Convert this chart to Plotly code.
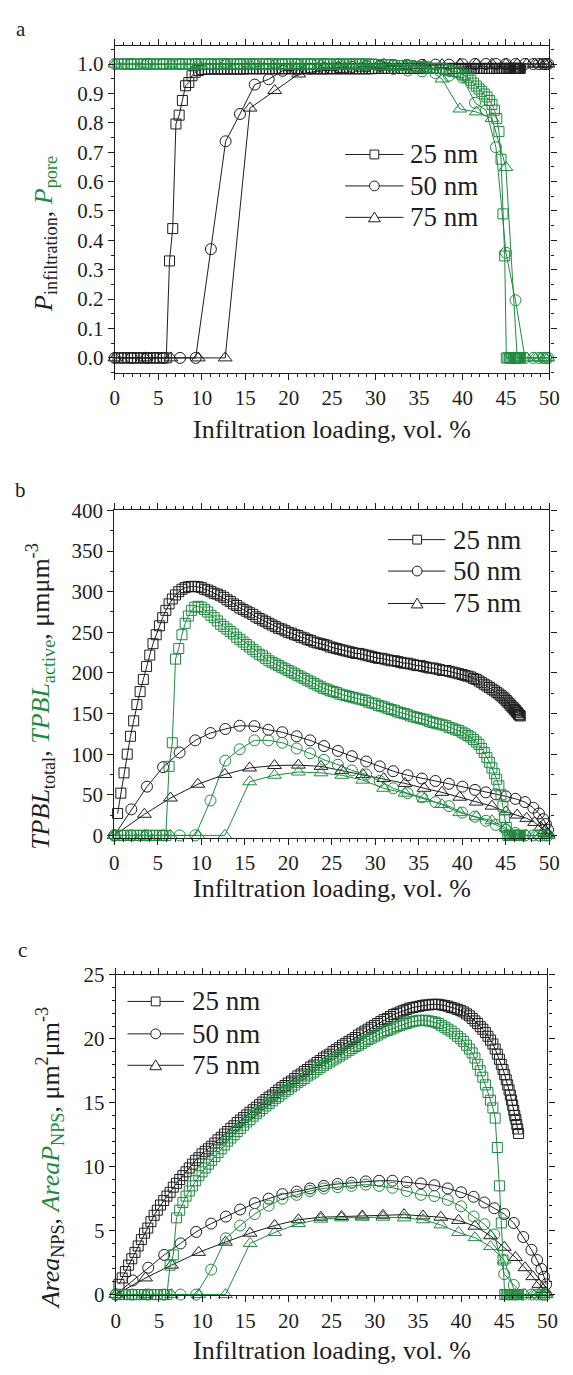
import plotly.graph_objects as go

W, H = 573, 1375
INK = '#1e1e1e'
GREEN = '#1f8b40'
FONT = 'Liberation Serif'

# ---------------- x positions (infiltration loading, vol. %) ----------------
X25 = [0.37, 0.74, 1.11, 1.48, 1.85, 2.22, 2.59, 2.96, 3.33, 3.70,
       4.07, 4.44, 4.81, 5.18, 5.55, 5.92, 6.29, 6.66, 7.03, 7.40,
       7.77, 8.14, 8.51, 8.88, 9.25, 9.62, 9.99, 10.36, 10.73, 11.10,
       11.47, 11.84, 12.21, 12.58, 12.95, 13.32, 13.69, 14.06, 14.43, 14.80,
       15.17, 15.54, 15.91, 16.28, 16.65, 17.02, 17.39, 17.76, 18.13, 18.50,
       18.87, 19.24, 19.61, 19.98, 20.35, 20.72, 21.09, 21.46, 21.83, 22.20,
       22.57, 22.94, 23.31, 23.68, 24.05, 24.42, 24.79, 25.16, 25.53, 25.90,
       26.27, 26.64, 27.01, 27.38, 27.75, 28.12, 28.49, 28.86, 29.23, 29.60,
       29.97, 30.34, 30.71, 31.08, 31.45, 31.82, 32.19, 32.56, 32.93, 33.30,
       33.67, 34.04, 34.41, 34.78, 35.15, 35.52, 35.89, 36.26, 36.63, 37.00,
       37.37, 37.74, 38.11, 38.48, 38.85, 39.22, 39.59, 39.96, 40.30, 40.63,
       40.96, 41.28, 41.60, 41.91, 42.22, 42.52, 42.82, 43.11, 43.40, 43.68,
       43.95, 44.20, 44.44, 44.66, 44.86, 45.05, 45.23, 45.40, 45.56, 45.71,
       45.85, 45.98, 46.10, 46.22, 46.34, 46.45, 46.56, 46.66]
X50 = [0, 1.95, 3.75, 5.6, 7.5, 9.3, 11.05, 12.75, 14.4, 16.1, 17.7, 19.3,
       20.95, 22.5, 24.1, 25.7, 27.3, 28.95, 30.5, 32.05, 33.7, 35.35, 36.9,
       38.45, 40.0, 41.45, 42.7, 43.85, 45.0, 46.1, 47.2, 48.15, 48.8, 49.3,
       49.6, 49.85]
X75 = [0, 3.45, 6.45, 9.6, 12.7, 15.55, 18.4, 21.15, 23.75, 26.15, 28.55,
       30.95, 33.4, 35.6, 37.65, 39.7, 41.6, 43.4, 45.0, 46.3, 47.4, 48.3,
       49.0, 49.5, 49.85]

SIZES = ['25 nm', '50 nm', '75 nm']

# ---------------- panel a: P_infiltration (black), P_pore (green) ----------------
PINF_25 = [0, 0, 0, 0, 0, 0, 0, 0, 0, 0,
           0, 0, 0, 0, 0, 0, 0.33, 0.44, 0.796, 0.826,
           0.876, 0.926, 0.937, 0.96, 0.972, 0.978, 0.981, 0.982, 0.983, 0.983,
           0.983, 0.983, 0.983, 0.983, 0.983, 0.983, 0.983, 0.983, 0.983, 0.983,
           0.984, 0.984, 0.984, 0.984, 0.984, 0.984, 0.984, 0.984, 0.984, 0.984,
           0.984, 0.984, 0.984, 0.984, 0.984, 0.984, 0.984, 0.984, 0.984, 0.984,
           0.984, 0.984, 0.984, 0.984, 0.984, 0.984, 0.984, 0.984, 0.984, 0.984,
           0.984, 0.984, 0.984, 0.984, 0.984, 0.984, 0.984, 0.984, 0.984, 0.984,
           0.985, 0.985, 0.985, 0.985, 0.985, 0.985, 0.985, 0.985, 0.985, 0.985,
           0.985, 0.985, 0.985, 0.985, 0.985, 0.985, 0.985, 0.985, 0.985, 0.985,
           0.985, 0.985, 0.985, 0.985, 0.985, 0.985, 0.985, 0.985, 0.985, 0.985,
           0.985, 0.985, 0.985, 0.985, 0.985, 0.985, 0.985, 0.985, 0.985, 0.985,
           0.985, 0.985, 0.985, 0.985, 0.985, 0.985, 0.985, 0.985, 0.985, 0.985,
           0.985, 0.985, 0.985, 0.985, 0.985, 0.985, 0.985, 0.985]
PPORE_25 = [1, 1, 1, 1, 1, 1, 1, 1, 1, 1,
            1, 1, 1, 1, 1, 1, 1, 1, 1, 1,
            1, 1, 1, 1, 1, 1, 1, 1, 1, 1,
            1, 1, 1, 1, 1, 1, 1, 1, 1, 1,
            1, 1, 1, 1, 1, 1, 1, 1, 1, 1,
            1, 1, 1, 1, 1, 1, 1, 1, 1, 1,
            1, 1, 1, 1, 1, 1, 1, 1, 1, 1,
            1, 1, 1, 1, 1, 1, 1, 1, 1, 1,
            0.998, 0.998, 0.998, 0.998, 0.998, 0.998, 0.995, 0.995, 0.995, 0.995,
            0.995, 0.995, 0.99, 0.99, 0.99, 0.99, 0.99, 0.985, 0.985, 0.985,
            0.985, 0.985, 0.98, 0.98, 0.975, 0.975, 0.97, 0.965, 0.96, 0.953,
            0.945, 0.935, 0.925, 0.915, 0.907, 0.898, 0.888, 0.876, 0.862, 0.843,
            0.815, 0.77, 0.676, 0.49, 0.347, 0, 0, 0, 0, 0,
            0, 0, 0, 0, 0, 0, 0, 0]
PINF_50 = [0, 0, 0, 0, 0, 0, 0.37, 0.737, 0.83, 0.93, 0.948, 0.977, 0.98,
           0.984, 0.986, 0.988, 0.99, 0.992, 0.994, 0.995, 0.996, 0.997, 0.998,
           0.998, 0.999, 1, 1, 1, 1, 1, 1, 1, 1, 1, 1, 1]
PPORE_50 = [1, 1, 1, 1, 1, 1, 1, 1, 1, 1, 1, 1, 1, 1, 1, 1, 0.998, 0.995,
            0.99, 0.983, 0.978, 0.975, 0.969, 0.96, 0.954, 0.868, 0.843, 0.717,
            0.358, 0.196, 0, 0, 0, 0, 0, 0]
PINF_75 = [0, 0, 0, 0, 0, 0.85, 0.91, 0.966, 0.977, 0.982, 0.986, 0.99, 0.993,
           0.996, 0.998, 1, 1, 1, 1, 1, 1, 1, 1, 1, 1]
PPORE_75 = [1, 1, 1, 1, 1, 1, 1, 1, 1, 1, 1, 1, 0.997, 0.993, 0.949, 0.847,
            0.837, 0.815, 0.648, 0, 0, 0, 0, 0, 0]

# ---------------- panel b: TPBL_total (black), TPBL_active (green) ----------------
TPBL_TOT_25 = [27, 52, 77, 100, 122, 141, 161, 177, 192, 208,
               222, 236, 247, 258, 268, 277, 285, 291, 296, 300,
               303, 305, 306, 306.5, 306.5, 306, 305, 303, 302, 300,
               298, 297, 295, 293, 290, 288, 285, 283, 280, 278,
               276, 274, 272, 269, 267, 265, 263, 261, 259, 257,
               255, 254, 252, 250, 249, 247, 246, 244, 243, 241,
               240, 238, 237, 236, 235, 234, 232, 231, 230, 229,
               228, 227, 226, 225, 224, 224, 223, 222, 221, 220,
               219, 218, 218, 217, 216, 215, 215, 214, 213, 212,
               212, 211, 210, 209, 209, 208, 207, 206, 206, 205,
               204, 203, 203, 202, 201, 200, 199, 198, 197, 196,
               195, 193, 192, 190, 188, 186, 184, 182, 180, 178,
               176, 174, 172, 170, 168, 166, 164, 162, 160, 158,
               157, 155, 154, 152, 151, 149, 148, 147]
TPBL_ACT_25 = [0, 0, 0, 0, 0, 0, 0, 0, 0, 0,
               0, 0, 0, 0, 0, 0, 85, 114, 217, 230,
               247, 261, 270, 277, 281, 282, 281, 278, 275, 271,
               268, 264, 260, 257, 254, 251, 248, 244, 241, 238,
               235, 232, 229, 226, 223, 221, 218, 215, 213, 211,
               209, 207, 205, 203, 201, 199, 197, 195, 193, 191,
               189, 187, 185, 183, 181, 180, 178, 177, 176, 174,
               173, 172, 171, 170, 169, 168, 167, 166, 164, 163,
               162, 160, 159, 158, 156, 155, 154, 152, 151, 150,
               149, 147, 146, 145, 144, 143, 142, 140, 139, 138,
               137, 136, 135, 133, 132, 130, 129, 127, 125, 123,
               121, 118, 115, 112, 107, 102, 96, 90, 83, 76,
               69, 61, 50, 36, 22, 10, 0, 0, 0, 0,
               0, 0, 0, 0, 0, 0, 0, 0]
TPBL_TOT_50 = [0, 32, 60, 84, 102, 117, 126, 131, 135, 134.5, 130, 127, 122,
               117, 110, 104, 97.5, 91, 85, 79, 74, 70, 67, 63.5, 60, 56, 53,
               50.5, 48, 45, 41, 34, 27, 20, 14, 7]
TPBL_ACT_50 = [0, 0, 0, 0, 0, 0, 43, 92, 106, 117, 117, 114, 107, 101, 93, 87,
               80, 75, 67, 58, 52, 47, 41, 36, 28, 23, 18, 13, 7, 3,
               0, 0, 0, 0, 0, 0]
TPBL_TOT_75 = [0, 26, 46, 63, 75, 83, 86, 86.5, 85, 80, 75, 70, 64, 58, 53, 47,
               41, 36, 29, 25, 21, 16, 10, 6, 2]
TPBL_ACT_75 = [0, 0, 0, 0, 0, 66, 74, 78, 77, 74, 68, 58, 52, 45, 38, 28, 23,
               18, 9, 0, 0, 0, 0, 0, 0]

# ---------------- panel c: Area_NPS (black), AreaP_NPS (green) ----------------
AREA_25 = [0.8, 1.3, 1.8, 2.3, 2.8, 3.3, 3.8, 4.3, 4.8, 5.2,
           5.7, 6.2, 6.6, 7.0, 7.35, 7.7, 8.0, 8.4, 8.7, 9.0,
           9.3, 9.6, 9.9, 10.2, 10.5, 10.7, 11.0, 11.2, 11.4, 11.6,
           11.85, 12.1, 12.3, 12.55, 12.75, 13.0, 13.2, 13.45, 13.65, 13.85,
           14.05, 14.25, 14.45, 14.65, 14.85, 15.05, 15.25, 15.45, 15.6, 15.8,
           16.0, 16.2, 16.35, 16.55, 16.7, 16.9, 17.1, 17.25, 17.45, 17.6,
           17.8, 17.95, 18.15, 18.3, 18.5, 18.65, 18.8, 19.0, 19.15, 19.3,
           19.5, 19.65, 19.8, 19.95, 20.1, 20.3, 20.45, 20.6, 20.75, 20.9,
           21.05, 21.2, 21.35, 21.5, 21.6, 21.75, 21.9, 22.0, 22.1, 22.2,
           22.3, 22.4, 22.45, 22.5, 22.55, 22.6, 22.65, 22.65, 22.7, 22.7,
           22.7, 22.65, 22.6, 22.55, 22.45, 22.4, 22.3, 22.2, 22.1, 21.95,
           21.8, 21.6, 21.4, 21.2, 20.95, 20.75, 20.5, 20.2, 19.9, 19.6,
           19.2, 18.8, 18.4, 18.0, 17.6, 17.2, 16.8, 16.4, 16.0, 15.6,
           15.2, 14.8, 14.4, 14.0, 13.7, 13.3, 12.95, 12.6]
AREAP_25 = [0, 0, 0, 0, 0, 0, 0, 0, 0, 0,
            0, 0, 0, 0, 0, 0, 2.3, 3.1, 6.0, 6.6,
            7.2, 7.7, 8.1, 8.5, 8.9, 9.3, 9.6, 9.9, 10.2, 10.5,
            10.8, 11.1, 11.4, 11.7, 12.0, 12.25, 12.5, 12.75, 13.0, 13.25,
            13.5, 13.7, 13.95, 14.15, 14.35, 14.55, 14.75, 14.95, 15.15, 15.35,
            15.5, 15.7, 15.9, 16.05, 16.25, 16.4, 16.6, 16.75, 16.9, 17.1,
            17.25, 17.4, 17.6, 17.75, 17.9, 18.05, 18.2, 18.35, 18.5, 18.65,
            18.8, 18.95, 19.1, 19.25, 19.4, 19.5, 19.65, 19.8, 19.95, 20.05,
            20.2, 20.3, 20.45, 20.55, 20.65, 20.75, 20.85, 20.95, 21.05, 21.15,
            21.2, 21.3, 21.35, 21.4, 21.45, 21.45, 21.45, 21.4, 21.35, 21.3,
            21.2, 21.05, 20.9, 20.75, 20.6, 20.4, 20.2, 20.0, 19.8, 19.5,
            19.2, 18.9, 18.5, 18.0, 17.5, 17.0, 16.4, 15.8, 15.2, 14.6,
            13.8, 11.5, 8.5, 5.6, 2.7, 0, 0, 0, 0, 0,
            0, 0, 0, 0, 0, 0, 0, 0]
AREA_50 = [0, 1.1, 2.1, 3.1, 4.0, 4.9, 5.55, 6.1, 6.65, 7.15, 7.5, 7.85, 8.05,
           8.3, 8.5, 8.65, 8.75, 8.85, 8.9, 8.9, 8.8, 8.7, 8.55, 8.3, 8.0, 7.65,
           7.2, 6.75, 6.3, 5.6, 4.5, 3.5, 2.7, 2.0, 1.4, 0.8]
AREAP_50 = [0, 0, 0, 0, 0, 0, 1.95, 4.4, 5.4, 6.3, 6.95, 7.5, 7.8, 8.1, 8.3,
            8.4, 8.5, 8.6, 8.5, 8.35, 8.1, 7.8, 7.7, 7.4, 6.9, 6.1, 5.5, 4.7,
            1.6, 0.75, 0, 0, 0, 0, 0, 0]
AREA_75 = [0, 1.3, 2.3, 3.3, 4.1, 4.8, 5.4, 5.85, 6.05, 6.1, 6.15, 6.2, 6.25,
           6.15, 6.05, 5.8, 5.35, 4.6, 3.7, 2.9, 2.1, 1.4, 0.8, 0.4, 0.15]
AREAP_75 = [0, 0, 0, 0, 0, 4.0, 4.85, 5.55, 5.9, 6.0, 6.05, 6.05, 6.0, 5.85,
            5.45, 4.85, 4.45, 3.75, 2.7, 0, 0, 0, 0, 0, 0]

PANEL_DATA = [
    ([PINF_25, PINF_50, PINF_75], [PPORE_25, PPORE_50, PPORE_75]),
    ([TPBL_TOT_25, TPBL_TOT_50, TPBL_TOT_75], [TPBL_ACT_25, TPBL_ACT_50, TPBL_ACT_75]),
    ([AREA_25, AREA_50, AREA_75], [AREAP_25, AREAP_50, AREAP_75]),
]
XS = [X25, X50, X75]
SYMBOLS = ['square-open', 'circle-open', 'triangle-up-open']
MSIZE = [10, 11, 12]

fig = go.Figure()
for p, (blacks, greens) in enumerate(PANEL_DATA):
    suf = '' if p == 0 else str(p + 1)
    for group, color in ((blacks, INK), (greens, GREEN)):
        for i, yv in enumerate(group):
            fig.add_trace(go.Scatter(
                x=XS[i], y=yv, mode='lines+markers', name=SIZES[i],
                xaxis='x' + suf, yaxis='y' + suf,
                line=dict(color=color, width=1),
                marker=dict(symbol=SYMBOLS[i], size=MSIZE[i], color=color,
                            line=dict(width=1, color=color)),
                showlegend=False, cliponaxis=False))


def px_x(v):
    return v / W


def px_y(v):
    return 1 - v / H


panels = [
    dict(xd=(113, 560), yd=(367, 35), yr=[-0.05, 1.06], dt=0.1, mdt=0.05, fmt='.1f'),
    dict(xd=(112.5, 560), yd=(840.5, 507.3), yr=[-3, 400], dt=50, mdt=25, fmt='d'),
    dict(xd=(114, 558), yd=(1306, 980), yr=[-0.05, 25], dt=5, mdt=1, fmt='d'),
]

axis_common = dict(showline=True, linecolor=INK, linewidth=1.3, mirror='allticks',
                   ticks='outside', ticklen=6, tickwidth=1.2, tickcolor=INK,
                   showgrid=False, zeroline=False,
                   tickfont=dict(family=FONT, size=21, color=INK))
layout = {}
for p, d in enumerate(panels):
    suf = '' if p == 0 else str(p + 1)
    layout['xaxis' + suf] = dict(
        domain=[px_x(d['xd'][0]), px_x(d['xd'][1])], anchor='y' + suf,
        range=[0, 50], tick0=0, dtick=5,
        minor=dict(ticks='outside', ticklen=3, tickwidth=1, tickcolor=INK, dtick=1),
        **axis_common)
    layout['yaxis' + suf] = dict(
        domain=[px_y(d['yd'][0]), px_y(d['yd'][1])], anchor='x' + suf,
        range=d['yr'], tick0=0, dtick=d['dt'], tickformat=d['fmt'],
        minor=dict(ticks='outside', ticklen=3, tickwidth=1, tickcolor=INK, dtick=d['mdt']),
        **axis_common)

# legend keys (line, open marker, label) for each panel
LEGENDS = [
    dict(x0=350, x1=410, xm=380, xt=415, rows=[145, 177, 209]),
    dict(x0=394, x1=453, xm=424, xt=459, rows=[537, 569, 602]),
    dict(x0=126, x1=184, xm=155, xt=190, rows=[1007, 1040, 1072]),
]
shapes = []
ann = []
for lg in LEGENDS:
    for i, yy in enumerate(lg['rows']):
        shapes.append(dict(type='line', xref='paper', yref='paper',
                           x0=px_x(lg['x0']), x1=px_x(lg['x1']),
                           y0=px_y(yy), y1=px_y(yy), line=dict(color=INK, width=1)))
        xm = lg['xm']
        if i == 0:
            shapes.append(dict(type='rect', xref='paper', yref='paper',
                               x0=px_x(xm - 4.5), x1=px_x(xm + 4.5),
                               y0=px_y(yy + 4.5), y1=px_y(yy - 4.5),
                               fillcolor='white', line=dict(color=INK, width=1)))
        elif i == 1:
            shapes.append(dict(type='circle', xref='paper', yref='paper',
                               x0=px_x(xm - 5), x1=px_x(xm + 5),
                               y0=px_y(yy + 5), y1=px_y(yy - 5),
                               fillcolor='white', line=dict(color=INK, width=1)))
        else:
            path = 'M %.5f %.5f L %.5f %.5f L %.5f %.5f Z' % (
                px_x(xm - 6), px_y(yy + 4.5), px_x(xm + 6), px_y(yy + 4.5),
                px_x(xm), px_y(yy - 5.5))
            shapes.append(dict(type='path', xref='paper', yref='paper', path=path,
                               fillcolor='white', line=dict(color=INK, width=1)))
        ann.append(dict(text=SIZES[i], x=px_x(lg['xt']), y=px_y(yy),
                        xref='paper', yref='paper', xanchor='left', yanchor='middle',
                        showarrow=False, font=dict(family=FONT, size=27, color=INK)))

XTITLE = 'Infiltration loading, vol. %'
YTITLES = [
    "<i>P</i><sub>infiltration</sub>, <span style='color:%s'><i>P</i><sub>pore</sub></span>" % GREEN,
    "<i>TPBL</i><sub>total</sub>, <span style='color:%s'><i>TPBL</i><sub>active</sub></span>, μmμm<sup>-3</sup>" % GREEN,
    "<i>Area</i><sub>NPS</sub>, <span style='color:%s'><i>AreaP</i><sub>NPS</sub></span>, μm<sup>2</sup>μm<sup>-3</sup>" % GREEN,
]
LABELS = ['a', 'b', 'c']
xt_pos = [(336.5, 425), (336, 892), (336, 1362)]
yt_pos = [(41, 226), (36, 696), (46, 1167)]
lab_pos = [(16, 17), (16, 487), (18, 955)]

for p in range(3):
    ann.append(dict(text=XTITLE, x=px_x(xt_pos[p][0]), y=px_y(xt_pos[p][1]),
                    xref='paper', yref='paper', xanchor='center', yanchor='middle',
                    showarrow=False, font=dict(family=FONT, size=26, color=INK)))
    ann.append(dict(text=YTITLES[p], x=px_x(yt_pos[p][0]), y=px_y(yt_pos[p][1]),
                    xref='paper', yref='paper', xanchor='center', yanchor='middle',
                    textangle=-90, showarrow=False,
                    font=dict(family=FONT, size=26, color=INK)))
    ann.append(dict(text=LABELS[p], x=px_x(lab_pos[p][0]), y=px_y(lab_pos[p][1]),
                    xref='paper', yref='paper', xanchor='center', yanchor='middle',
                    showarrow=False, font=dict(family=FONT, size=21, color=INK)))

fig.update_layout(width=W, height=H, margin=dict(l=0, r=0, t=0, b=0),
                  autosize=False, paper_bgcolor='white', plot_bgcolor='white',
                  showlegend=False, annotations=ann, shapes=shapes, **layout)
fig.write_html('out.html', config={'displayModeBar': False},
               post_script="document.body.style.margin='0px';document.body.style.overflow='hidden';")
